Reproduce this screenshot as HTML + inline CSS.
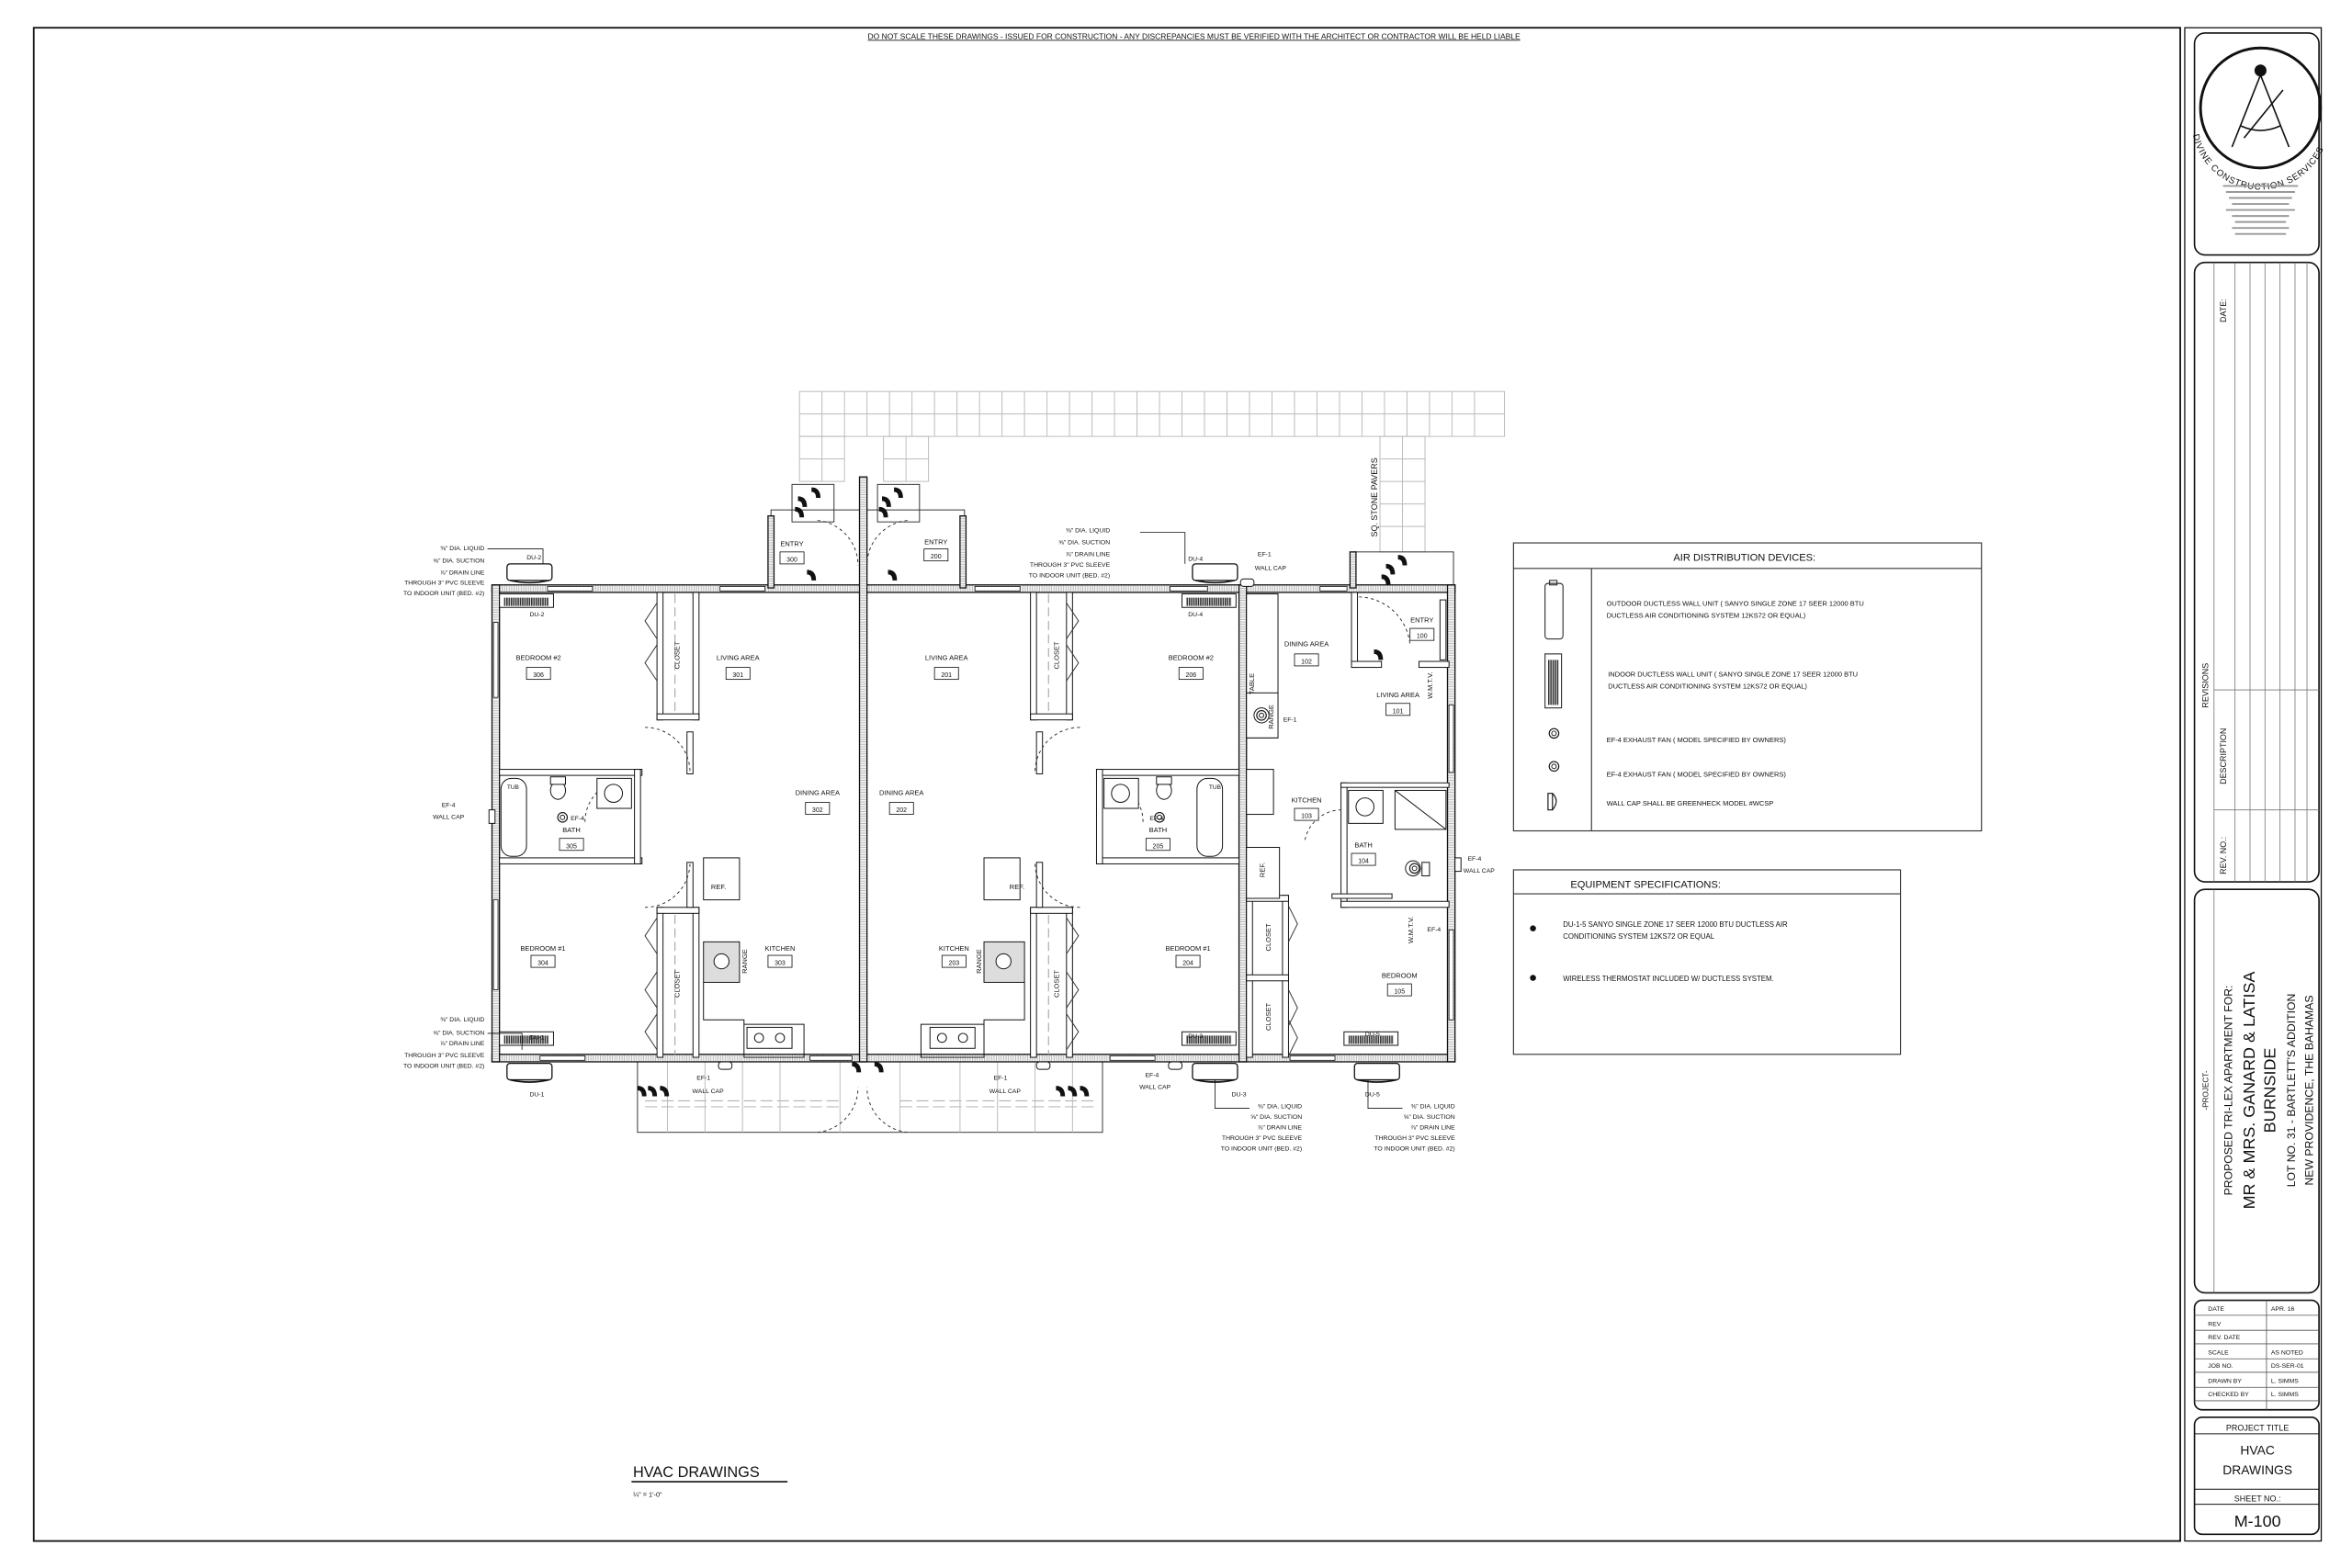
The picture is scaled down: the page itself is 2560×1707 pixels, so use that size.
<!DOCTYPE html>
<html><head><meta charset="utf-8"><style>
html,body{margin:0;padding:0;background:#fff;}
svg{display:block;}
text{font-family:"Liberation Sans",sans-serif;fill:#111;}
</style></head><body>
<svg width="2560" height="1707" viewBox="0 0 1568 1045.5" preserveAspectRatio="none" xmlns="http://www.w3.org/2000/svg">
<defs>
<pattern id="wh" width="1.6" height="1.6" patternUnits="userSpaceOnUse"><rect width="1.6" height="1.6" fill="#f2f2f2"/><line x1="0.3" y1="0" x2="0.3" y2="1.6" stroke="#9a9a9a" stroke-width="0.35"/></pattern>
<pattern id="wv" width="1.6" height="1.6" patternUnits="userSpaceOnUse"><rect width="1.6" height="1.6" fill="#f2f2f2"/><line x1="0" y1="0.3" x2="1.6" y2="0.3" stroke="#9a9a9a" stroke-width="0.35"/></pattern>
<pattern id="grill" width="1.5" height="4" patternUnits="userSpaceOnUse"><rect width="1.5" height="4" fill="#fff"/><rect width="1" height="4" fill="#333"/></pattern>
<g id="odu"><rect x="0" y="0" width="30" height="11" rx="2" fill="#fff" stroke="#111" stroke-width="0.8"/><path d="M2 11 Q15 14 28 11" fill="none" stroke="#111" stroke-width="1"/></g>
<g id="idu"><rect x="0" y="0" width="36" height="9" fill="#fff" stroke="#111" stroke-width="0.6"/><rect x="3" y="2.5" width="30" height="5.5" fill="url(#grill)"/></g>
<g id="door"><path d="M0 0 Q6 0 6 7 h-3 Q3 3 0 3z" fill="#111"/></g>
<g id="fan"><circle r="3.2" fill="none" stroke="#111" stroke-width="0.7"/><circle r="1.5" fill="none" stroke="#111" stroke-width="0.6"/></g>
</defs>

<rect x="22.5" y="18.5" width="1431" height="1009" fill="none" stroke="#111" stroke-width="1.1"/>
<rect x="1456.5" y="18.5" width="91" height="1009" fill="none" stroke="#111" stroke-width="0.8"/>
<text x="796" y="26" font-size="5.2" text-anchor="middle" text-decoration="underline">DO NOT SCALE THESE DRAWINGS - ISSUED FOR CONSTRUCTION - ANY DISCREPANCIES MUST BE VERIFIED WITH THE ARCHITECT OR CONTRACTOR WILL BE HELD LIABLE</text>

<g stroke="#bbb" stroke-width="0.6" fill="none">
<rect x="533" y="261" width="470" height="30"/>
<line x1="533" y1="276" x2="1003" y2="276"/>
<path d="M548 261V291M563 261V291M578 261V291M593 261V291M608 261V291M623 261V291M638 261V291M653 261V291M668 261V291M683 261V291M698 261V291M713 261V291M728 261V291M743 261V291M758 261V291M773 261V291M788 261V291M803 261V291M818 261V291M833 261V291M848 261V291M863 261V291M878 261V291M893 261V291M908 261V291M923 261V291M938 261V291M953 261V291M968 261V291M983 261V291"/>
<rect x="533" y="291" width="30" height="30"/><line x1="548" y1="291" x2="548" y2="321"/><line x1="533" y1="306" x2="563" y2="306"/>
<rect x="589" y="291" width="30" height="30"/><line x1="604" y1="291" x2="604" y2="321"/><line x1="589" y1="306" x2="619" y2="306"/>
<rect x="920" y="291" width="30" height="77"/><line x1="935" y1="291" x2="935" y2="368"/><path d="M920 306H950M920 321H950M920 336H950M920 351H950"/>
</g>
<text transform="translate(918,358) rotate(-90)" font-size="5.5">SQ. STONE PAVERS</text>

<g fill="none" stroke="#333" stroke-width="0.6">
<rect x="514" y="340" width="129" height="51"/>
<rect x="528" y="323" width="28" height="25"/><rect x="585" y="323" width="28" height="25"/>
<rect x="903" y="368" width="66" height="23"/>
<rect x="425" y="707" width="310" height="48"/>
<path d="M430 734H560M600 734H730M430 738H560M600 738H730" stroke="#aaa" stroke-dasharray="8 3"/>
<path d="M445 707V755M470 707V755M495 707V755M520 707V755M560 707V755M600 707V755M640 707V755M665 707V755M690 707V755M715 707V755" stroke="#bbb"/>
</g>
<g>
<use href="#door" x="541" y="325"/><use href="#door" x="532" y="331"/><use href="#door" x="530" y="338"/>
<use href="#door" x="596" y="325"/><use href="#door" x="588" y="331"/><use href="#door" x="586" y="338"/>
<use href="#door" x="538" y="380"/><use href="#door" x="592" y="380"/>
<use href="#door" x="932" y="370"/><use href="#door" x="924" y="376"/><use href="#door" x="921" y="383"/>
<use href="#door" x="916" y="433"/>
<use href="#door" x="425" y="724"/><use href="#door" x="432" y="724"/><use href="#door" x="440" y="724"/>
<use href="#door" x="704" y="724"/><use href="#door" x="712" y="724"/><use href="#door" x="720" y="724"/>
<use href="#door" x="568" y="708"/><use href="#door" x="583" y="708"/>
</g>

<g stroke="#111" stroke-width="0.8">
<rect x="328" y="390" width="642" height="5" fill="url(#wh)"/>
<rect x="328" y="703" width="642" height="5" fill="url(#wh)"/>
<rect x="328" y="390" width="5" height="318" fill="url(#wv)"/>
<rect x="965" y="390" width="5" height="318" fill="url(#wv)"/>
<rect x="573" y="318" width="5" height="390" fill="url(#wv)"/>
<rect x="826" y="390" width="5" height="318" fill="url(#wv)"/>
<rect x="512" y="344" width="4" height="48" fill="url(#wv)"/>
<rect x="640" y="344" width="4" height="48" fill="url(#wv)"/>
<rect x="900" y="368" width="4" height="24" fill="url(#wv)"/>
</g>
<g fill="#fff" stroke="#111" stroke-width="0.5">
<rect x="365" y="391" width="30" height="3"/><rect x="480" y="391" width="30" height="3"/><rect x="650" y="391" width="30" height="3"/><rect x="780" y="391" width="25" height="3"/><rect x="880" y="391" width="18" height="3"/>
<rect x="360" y="704" width="30" height="3"/><rect x="540" y="704" width="28" height="3"/><rect x="740" y="704" width="30" height="3"/><rect x="860" y="704" width="30" height="3"/>
<rect x="329" y="415" width="3" height="50"/><rect x="329" y="600" width="3" height="60"/><rect x="966" y="470" width="3" height="45"/><rect x="966" y="620" width="3" height="60"/>
</g>

<g fill="#fff" stroke="#111" stroke-width="0.6">
<rect x="333" y="513" width="95" height="4"/><rect x="333" y="572" width="95" height="4"/>
<rect x="423" y="513" width="4" height="63"/>
<rect x="438" y="395" width="4" height="85"/><rect x="462" y="395" width="4" height="85"/><rect x="438" y="476" width="28" height="4"/>
<rect x="438" y="605" width="4" height="100"/><rect x="462" y="605" width="4" height="100"/><rect x="438" y="605" width="28" height="4"/>
<rect x="458" y="488" width="4" height="28"/><rect x="458" y="575" width="4" height="30"/>
<rect x="731" y="513" width="95" height="4"/><rect x="731" y="572" width="95" height="4"/>
<rect x="731" y="513" width="4" height="63"/>
<rect x="687" y="395" width="4" height="85"/><rect x="711" y="395" width="4" height="85"/><rect x="687" y="476" width="28" height="4"/>
<rect x="687" y="605" width="4" height="100"/><rect x="711" y="605" width="4" height="100"/><rect x="687" y="605" width="28" height="4"/>
<rect x="691" y="488" width="4" height="28"/><rect x="691" y="575" width="4" height="30"/>
<rect x="894" y="522" width="4" height="83"/><rect x="894" y="601" width="72" height="4"/><rect x="894" y="522" width="72" height="3"/>
<rect x="901" y="395" width="4" height="50"/><rect x="901" y="441" width="20" height="4"/><rect x="946" y="441" width="20" height="4"/>
<rect x="831" y="597" width="4" height="108"/><rect x="855" y="597" width="4" height="108"/><rect x="831" y="650" width="28" height="4"/><rect x="831" y="597" width="28" height="4"/>
</g>
<g fill="none" stroke="#333" stroke-width="0.6">
<path d="M438 402 l-8 12 8 12M438 430 l-8 12 8 12M438 612 l-8 12 8 12M438 648 l-8 12 8 12M438 676 l-8 12 8 12"/>
<path d="M711 402 l8 12 -8 12M711 430 l8 12 -8 12M711 612 l8 12 -8 12M711 648 l8 12 -8 12M711 676 l8 12 -8 12"/>
<path d="M859 604 l6 12 -6 12M859 660 l6 12 -6 12M859 680 l6 12 -6 12"/>
<line x1="450" y1="396" x2="450" y2="476" stroke-dasharray="6 3" stroke="#999"/><line x1="450" y1="610" x2="450" y2="704" stroke-dasharray="6 3" stroke="#999"/>
<line x1="699" y1="396" x2="699" y2="476" stroke-dasharray="6 3" stroke="#999"/><line x1="699" y1="610" x2="699" y2="704" stroke-dasharray="6 3" stroke="#999"/>
<path d="M430 485 A30 30 0 0 1 460 515" stroke-dasharray="2 2"/><path d="M390 548 A28 28 0 0 1 418 520" stroke-dasharray="2 2"/>
<path d="M430 605 A30 30 0 0 0 460 575" stroke-dasharray="2 2"/>
<path d="M720 485 A30 30 0 0 0 690 515" stroke-dasharray="2 2"/><path d="M762 548 A28 28 0 0 0 734 520" stroke-dasharray="2 2"/>
<path d="M720 605 A30 30 0 0 1 690 575" stroke-dasharray="2 2"/>
<path d="M545 347 A30 30 0 0 1 572 377" stroke-dasharray="2 2"/><path d="M605 347 A30 30 0 0 0 578 377" stroke-dasharray="2 2"/>
<path d="M545 755 A30 30 0 0 0 572 725" stroke-dasharray="2 2"/><path d="M605 755 A30 30 0 0 1 578 725" stroke-dasharray="2 2"/>
<path d="M906 398 A35 35 0 0 1 940 430" stroke-dasharray="2 2"/><path d="M870 560 A25 25 0 0 1 895 540" stroke-dasharray="2 2"/>
</g>
<g fill="#fff" stroke="#111" stroke-width="0.6">
<rect x="334" y="519" width="17" height="52" rx="7"/><ellipse cx="372" cy="527" rx="5" ry="6"/><rect x="367" y="518" width="10" height="5"/><rect x="398" y="519" width="23" height="20"/><circle cx="409" cy="529" r="6"/>
<rect x="798" y="519" width="17" height="52" rx="7"/><ellipse cx="776" cy="527" rx="5" ry="6"/><rect x="771" y="518" width="10" height="5"/><rect x="736" y="519" width="23" height="20"/><circle cx="747" cy="529" r="6"/>
<rect x="469" y="572" width="24" height="28"/><rect x="469" y="628" width="24" height="27" fill="#ddd"/><circle cx="481" cy="641" r="5"/>
<path d="M469 655V680H496V705H536V683H496" fill="none"/><rect x="498" y="685" width="30" height="14"/><circle cx="506" cy="692" r="3"/><circle cx="520" cy="692" r="3"/>
<rect x="656" y="572" width="24" height="28"/><rect x="656" y="628" width="27" height="27" fill="#ddd"/><circle cx="669" cy="641" r="5"/>
<path d="M683 655V680H656V705H614V683H656" fill="none"/><rect x="620" y="685" width="30" height="14"/><circle cx="628" cy="692" r="3"/><circle cx="642" cy="692" r="3"/>
<rect x="831" y="396" width="21" height="96"/><rect x="831" y="462" width="21" height="30"/><circle cx="841" cy="477" r="5"/>
<rect x="831" y="513" width="18" height="30"/><rect x="831" y="565" width="22" height="34"/>
<rect x="899" y="527" width="23" height="22"/><circle cx="910" cy="538" r="6"/><rect x="930" y="527" width="34" height="26"/><path d="M930 527L964 553"/>
<circle cx="942" cy="579" r="5"/><rect x="948" y="575" width="5" height="9"/>
<rect x="888" y="596" width="40" height="3"/><rect x="960" y="400" width="4" height="40"/>
</g>
<use href="#odu" x="338" y="376"/><use href="#idu" x="333" y="396"/>
<use href="#odu" x="338" y="709"/><use href="#idu" x="333" y="688"/>
<use href="#odu" x="795" y="376"/><use href="#idu" x="788" y="396"/>
<use href="#odu" x="795" y="709"/><use href="#idu" x="788" y="688"/>
<use href="#odu" x="903" y="709"/><use href="#idu" x="896" y="688"/>
<use href="#fan" x="375" y="545"/><use href="#fan" x="773" y="545"/><use href="#fan" x="841" y="477"/><use href="#fan" x="943" y="579"/>
<g fill="#fff" stroke="#111" stroke-width="0.6">
<rect x="326" y="540" width="4" height="9"/><rect x="479" y="708" width="9" height="5" rx="2"/><rect x="691" y="708" width="9" height="5" rx="2"/><rect x="779" y="708" width="9" height="5" rx="2"/><rect x="827" y="386" width="9" height="5" rx="2"/><rect x="970" y="572" width="4" height="9"/>
</g>
<g fill="none" stroke="#111" stroke-width="0.5">
<path d="M325 366H362V376"/><path d="M325 689H348V700"/><path d="M760 355H790V376"/>
<path d="M810 720V739H833"/><path d="M912 720V739H935"/>
</g>
<g font-size="4.2" text-anchor="end">
<text x="323" y="367">⅜" DIA. LIQUID</text><text x="323" y="375">⅝" DIA. SUCTION</text><text x="323" y="383">⅞" DRAIN LINE</text><text x="323" y="390">THROUGH 3" PVC SLEEVE</text><text x="323" y="397">TO INDOOR UNIT (BED. #2)</text>
<text x="323" y="681">⅜" DIA. LIQUID</text><text x="323" y="690">⅝" DIA. SUCTION</text><text x="323" y="697">⅞" DRAIN LINE</text><text x="323" y="705">THROUGH 3" PVC SLEEVE</text><text x="323" y="712">TO INDOOR UNIT (BED. #2)</text>
<text x="740" y="355">⅜" DIA. LIQUID</text><text x="740" y="363">⅝" DIA. SUCTION</text><text x="740" y="371">⅞" DRAIN LINE</text><text x="740" y="378">THROUGH 3" PVC SLEEVE</text><text x="740" y="385">TO INDOOR UNIT (BED. #2)</text>
<text x="868" y="739">⅜" DIA. LIQUID</text><text x="868" y="746">⅝" DIA. SUCTION</text><text x="868" y="753">⅞" DRAIN LINE</text><text x="868" y="760">THROUGH 3" PVC SLEEVE</text><text x="868" y="767">TO INDOOR UNIT (BED. #2)</text>
<text x="970" y="739">⅜" DIA. LIQUID</text><text x="970" y="746">⅝" DIA. SUCTION</text><text x="970" y="753">⅞" DRAIN LINE</text><text x="970" y="760">THROUGH 3" PVC SLEEVE</text><text x="970" y="767">TO INDOOR UNIT (BED. #2)</text>
</g>
<g font-size="4.2" text-anchor="middle">
<text x="356" y="373">DU-2</text><text x="358" y="411">DU-2</text><text x="358" y="693">DU-1</text><text x="358" y="731">DU-1</text>
<text x="797" y="374">DU-4</text><text x="797" y="411">DU-4</text><text x="797" y="692">DU-3</text><text x="826" y="731">DU-3</text>
<text x="915" y="691">DU-5</text><text x="915" y="731">DU-5</text>
<text x="299" y="538">EF-4</text><text x="299" y="546">WALL CAP</text>
<text x="385" y="547">EF-4</text><text x="771" y="547">EF-4</text><text x="860" y="481">EF-1</text><text x="956" y="621">EF-4</text>
<text x="843" y="371">EF-1</text><text x="847" y="380">WALL CAP</text>
<text x="469" y="720">EF-1</text><text x="472" y="729">WALL CAP</text>
<text x="667" y="720">EF-1</text><text x="670" y="729">WALL CAP</text>
<text x="768" y="718">EF-4</text><text x="770" y="726">WALL CAP</text>
<text x="983" y="574">EF-4</text><text x="986" y="582">WALL CAP</text>
</g>
<g font-size="4.6" text-anchor="middle">
<text x="359" y="440">BEDROOM #2</text><text x="492" y="440">LIVING AREA</text><text x="545" y="530">DINING AREA</text><text x="381" y="555">BATH</text>
<text x="362" y="634">BEDROOM #1</text><text x="520" y="634">KITCHEN</text><text x="528" y="364">ENTRY</text><text x="624" y="363">ENTRY</text>
<text x="631" y="440">LIVING AREA</text><text x="601" y="530">DINING AREA</text><text x="794" y="440">BEDROOM #2</text><text x="772" y="555">BATH</text>
<text x="636" y="634">KITCHEN</text><text x="792" y="634">BEDROOM #1</text>
<text x="871" y="431">DINING AREA</text><text x="948" y="415">ENTRY</text><text x="932" y="465">LIVING AREA</text><text x="871" y="535">KITCHEN</text><text x="909" y="565">BATH</text><text x="933" y="652">BEDROOM</text>
<text x="479" y="593">REF.</text><text x="678" y="593">REF.</text><text x="342" y="526" font-size="4">TUB</text><text x="810" y="526" font-size="4">TUB</text>
</g>
<g fill="#fff" stroke="#111" stroke-width="0.5">
<rect x="351" y="445" width="16" height="8"/><rect x="484" y="445" width="16" height="8"/><rect x="537" y="535" width="16" height="8"/><rect x="373" y="559" width="16" height="8"/>
<rect x="354" y="637" width="16" height="8"/><rect x="512" y="637" width="16" height="8"/><rect x="520" y="368" width="16" height="8"/><rect x="616" y="366" width="16" height="8"/>
<rect x="623" y="445" width="16" height="8"/><rect x="593" y="535" width="16" height="8"/><rect x="786" y="445" width="16" height="8"/><rect x="764" y="559" width="16" height="8"/>
<rect x="628" y="637" width="16" height="8"/><rect x="784" y="637" width="16" height="8"/>
<rect x="863" y="436" width="16" height="8"/><rect x="940" y="419" width="16" height="8"/><rect x="924" y="469" width="16" height="8"/><rect x="863" y="539" width="16" height="8"/><rect x="901" y="569" width="16" height="8"/><rect x="925" y="656" width="16" height="8"/>
</g>
<g font-size="4.3" text-anchor="middle">
<text x="359" y="451.5">306</text><text x="492" y="451.5">301</text><text x="545" y="541.5">302</text><text x="381" y="565.5">305</text>
<text x="362" y="643.5">304</text><text x="520" y="643.5">303</text><text x="528" y="374.5">300</text><text x="624" y="372.5">200</text>
<text x="631" y="451.5">201</text><text x="601" y="541.5">202</text><text x="794" y="451.5">206</text><text x="772" y="565.5">205</text>
<text x="636" y="643.5">203</text><text x="792" y="643.5">204</text>
<text x="871" y="442.5">102</text><text x="948" y="425.5">100</text><text x="932" y="475.5">101</text><text x="871" y="545.5">103</text><text x="909" y="575.5">104</text><text x="933" y="662.5">105</text>
</g>
<g font-size="4.6" text-anchor="middle">
<text transform="translate(453,437) rotate(-90)">CLOSET</text><text transform="translate(453,656) rotate(-90)">CLOSET</text>
<text transform="translate(706,437) rotate(-90)">CLOSET</text><text transform="translate(706,656) rotate(-90)">CLOSET</text>
<text transform="translate(847,625) rotate(-90)">CLOSET</text><text transform="translate(847,678) rotate(-90)">CLOSET</text>
<text transform="translate(836,456) rotate(-90)">TABLE</text><text transform="translate(849,478) rotate(-90)">RANGE</text>
<text transform="translate(498,641) rotate(-90)">RANGE</text><text transform="translate(654,641) rotate(-90)">RANGE</text>
<text transform="translate(843,580) rotate(-90)">REF.</text><text transform="translate(955,457) rotate(-90)">W.M.T.V.</text><text transform="translate(942,620) rotate(-90)">W.M.T.V.</text>
</g>

<g fill="none" stroke="#333" stroke-width="0.7">
<rect x="1009" y="362" width="312" height="192"/><line x1="1009" y1="379" x2="1321" y2="379"/><line x1="1061" y1="379" x2="1061" y2="554"/>
<rect x="1009" y="580" width="258" height="123"/><line x1="1009" y1="596" x2="1267" y2="596"/>
<rect x="1030" y="389" width="12" height="37" rx="2"/><rect x="1033" y="387" width="5" height="3"/>
<rect x="1030" y="436" width="11" height="36"/>
</g>
<rect x="1032" y="440" width="7" height="30" fill="url(#grill)"/>
<use href="#fan" x="1036" y="489"/><use href="#fan" x="1036" y="511"/>
<path d="M1032 529h3v11h-3zM1035 529q5 5 0 11" fill="none" stroke="#111" stroke-width="0.7"/>
<text x="1163" y="374" font-size="6.8" text-anchor="middle">AIR DISTRIBUTION DEVICES:</text>
<g font-size="4.6">
<text x="1071" y="404">OUTDOOR DUCTLESS WALL UNIT ( SANYO SINGLE ZONE 17 SEER 12000 BTU</text><text x="1071" y="412">DUCTLESS AIR CONDITIONING SYSTEM 12KS72 OR EQUAL)</text>
<text x="1072" y="451">INDOOR DUCTLESS WALL UNIT ( SANYO SINGLE ZONE 17 SEER 12000 BTU</text><text x="1072" y="459">DUCTLESS AIR CONDITIONING SYSTEM 12KS72 OR EQUAL)</text>
<text x="1071" y="495">EF-4 EXHAUST FAN ( MODEL SPECIFIED BY OWNERS)</text>
<text x="1071" y="518">EF-4 EXHAUST FAN ( MODEL SPECIFIED BY OWNERS)</text>
<text x="1071" y="537">WALL CAP SHALL BE GREENHECK MODEL #WCSP</text>
</g>
<text x="1047" y="592" font-size="6.8">EQUIPMENT SPECIFICATIONS:</text>
<circle cx="1022" cy="619" r="2" fill="#111"/><circle cx="1022" cy="652" r="2" fill="#111"/>
<g font-size="4.8">
<text x="1042" y="618">DU-1-5 SANYO SINGLE ZONE 17 SEER 12000 BTU DUCTLESS AIR</text><text x="1042" y="626">CONDITIONING SYSTEM 12KS72 OR EQUAL</text>
<text x="1042" y="654">WIRELESS THERMOSTAT INCLUDED W/ DUCTLESS SYSTEM.</text>
</g>

<text x="422" y="985" font-size="10">HVAC DRAWINGS</text>
<line x1="421" y1="988" x2="525" y2="988" stroke="#111" stroke-width="1"/>
<text x="422" y="998" font-size="4.5">¼" = 1'-0"</text>

<g fill="none" stroke="#111" stroke-width="1">
<rect x="1463" y="22" width="83" height="148" rx="7"/>
<rect x="1463" y="175" width="83" height="413" rx="7"/>
<rect x="1463" y="593" width="83" height="269" rx="7"/>
<rect x="1463" y="867" width="83" height="73" rx="5"/>
<rect x="1463" y="945" width="83" height="78" rx="5"/>
<circle cx="1507" cy="72" r="40" stroke-width="1.8"/>
</g>
<g fill="none" stroke="#111" stroke-width="1">
<path d="M1507 50 L1488 98 M1507 50 L1526 98 M1494 84 Q1507 90 1520 84 M1522 60 L1496 92"/>
</g>
<circle cx="1507" cy="47" r="4" fill="#111"/>
<path id="arc" d="M1462 90 A46 46 0 0 0 1552 90" fill="none"/>
<text font-size="6" letter-spacing="0.5"><textPath href="#arc">DIVINE CONSTRUCTION SERVICES</textPath></text>
<g stroke="#999" stroke-width="1.2"><path d="M1482 124H1532M1484 128H1530M1486 132H1528M1488 136H1526M1484 140H1530M1488 144H1526M1490 148H1524M1488 152H1526M1490 156H1524"/></g>
<g stroke="#777" stroke-width="0.5">
<path d="M1476 175V588M1490 175V588M1500 175V588M1510 175V588M1520 175V588M1530 175V588M1538 175V588M1476 540H1546M1476 460H1546"/>
</g>
<g font-size="5.5">
<text transform="translate(1484,215) rotate(-90)">DATE:</text>
<text transform="translate(1484,523) rotate(-90)">DESCRIPTION</text>
<text transform="translate(1484,583) rotate(-90)">REV. NO.:</text>
<text transform="translate(1472,472) rotate(-90)">REVISIONS</text>
</g>
<line x1="1476" y1="593" x2="1476" y2="862" stroke="#777" stroke-width="0.5"/>
<g text-anchor="middle">
<text transform="translate(1472,727) rotate(-90)" font-size="5">-PROJECT-</text>
<text transform="translate(1488,727) rotate(-90)" font-size="7.5">PROPOSED TRI-LEX APARTMENT FOR:</text>
<text transform="translate(1503,727) rotate(-90)" font-size="11">MR &amp; MRS. GANARD &amp; LATISA</text>
<text transform="translate(1517,727) rotate(-90)" font-size="11">BURNSIDE</text>
<text transform="translate(1530,727) rotate(-90)" font-size="7.5">LOT NO. 31 - BARTLETT'S ADDITION</text>
<text transform="translate(1542,727) rotate(-90)" font-size="7.5">NEW PROVIDENCE, THE BAHAMAS</text>
</g>
<g stroke="#555" stroke-width="0.5"><path d="M1463 877H1546M1463 887H1546M1463 896H1546M1463 906H1546M1463 915H1546M1463 925H1546M1463 934H1546M1511 867V940"/></g>
<g font-size="4.2">
<text x="1472" y="874">DATE</text><text x="1472" y="884">REV</text><text x="1472" y="893">REV. DATE</text><text x="1472" y="903">SCALE</text><text x="1472" y="912">JOB NO.</text><text x="1472" y="922">DRAWN BY</text><text x="1472" y="931">CHECKED BY</text>
<text x="1514" y="874">APR. 16</text><text x="1514" y="903">AS NOTED</text><text x="1514" y="912">DS-SER-01</text><text x="1514" y="922">L. SIMMS</text><text x="1514" y="931">L. SIMMS</text>
</g>
<g stroke="#111" stroke-width="0.6"><path d="M1463 956H1546M1463 993H1546M1463 1003H1546"/></g>
<g text-anchor="middle">
<text x="1505" y="954" font-size="5.5">PROJECT TITLE</text>
<text x="1505" y="970" font-size="8.5">HVAC</text>
<text x="1505" y="983" font-size="8.5">DRAWINGS</text>
<text x="1505" y="1001" font-size="5.5">SHEET NO.:</text>
<text x="1505" y="1018" font-size="11">M-100</text>
</g>
</svg>
</body></html>
